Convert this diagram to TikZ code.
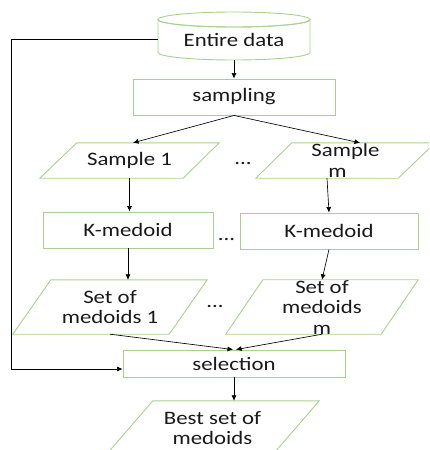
\documentclass[tikz,border=0pt]{standalone}
\usepackage{fontspec}
\setmainfont{Carlito}[FakeStretch=1.2]
\usetikzlibrary{arrows.meta}
\definecolor{boxgreen}{HTML}{A9D18E}
\tikzset{
  box/.style={draw=boxgreen, line width=0.9pt},
  lbl/.style={inner sep=0pt, align=center, text=black!90, font=\fontsize{19}{20.5}\selectfont},
  arr/.style={draw=black, line width=0.65pt, -{Latex[length=5.5pt,width=5pt]}},
}
\begin{document}
\begin{tikzpicture}[x=1pt,y=-1pt]
\useasboundingbox (0,0) rectangle (429,450);
\clip (0,0) rectangle (429,450);
% cylinder
\draw[box, fill=white] (158,19.5) -- (158,52.5)
  arc[start angle=180, end angle=0, x radius=76, y radius=7.5]
  -- (310,19.5) arc[start angle=0, end angle=180, x radius=76, y radius=7.5];
\draw[box] (234,19.5) ellipse[x radius=76, y radius=7.5];
\node[lbl, minimum width=152pt, minimum height=41pt] (data) at (234,39.5) {Entire data};
% sampling
\node[lbl, box, minimum width=202pt, minimum height=36pt] (samp) at (234,97) {sampling};
% sample nodes
\node[lbl, minimum width=179pt, minimum height=35pt] (s1) at (129.5,160.5) {Sample 1};
\draw[box] ([xshift=37pt]s1.north west) -- (s1.north east) -- ([xshift=-36pt]s1.south east) -- (s1.south west) -- cycle;
\node[lbl, minimum width=179pt, minimum height=35pt] (sm) at (345.5,160.5) {Sample\\m\hspace*{16pt}};
\draw[box] ([xshift=36pt]sm.north west) -- (sm.north east) -- ([xshift=-37pt]sm.south east) -- (sm.south west) -- cycle;
\node[lbl] (d1) at (243,163) {...};
% k-medoid
\node[lbl, box, minimum width=170pt, minimum height=36pt] (k1) at (128,230) {K-medoid};
\node[lbl, box, minimum width=178pt, minimum height=36pt] (km) at (329,231) {K-medoid};
\node[lbl] (d2) at (226.5,239) {...};
% set of medoids
\node[lbl, minimum width=194pt, minimum height=54pt] (set1) at (110,307) {Set of\\medoids 1};
\draw[box] ([xshift=38pt]set1.north west) -- (set1.north east) -- ([xshift=-38pt]set1.south east) -- (set1.south west) -- cycle;
\node[lbl, minimum width=192pt, minimum height=54pt] (setm) at (322,307) {Set of\\medoids\\m};
\draw[box] ([xshift=37pt]setm.north west) -- (setm.north east) -- ([xshift=-37pt]setm.south east) -- (setm.south west) -- cycle;
\node[lbl] (d3) at (215,306) {...};
% selection
\node[lbl, box, minimum width=222pt, minimum height=27pt] (sel) at (234,363.5) {selection};
% best set
\node[lbl, minimum width=213pt, minimum height=54pt] (best) at (212.5,428) {Best set of\\medoids};
\draw[box] ([xshift=47pt]best.north west) -- (best.north east) -- ([xshift=-47pt]best.south east) -- (best.south west) -- cycle;
% connectors
\coordinate (lft) at (11,369);
\draw[arr] (data.south) -- (samp.north);
\draw[arr] (samp.south) -- ([xshift=3.5pt]s1.north);
\draw[arr] (samp.south) -- ([xshift=14.5pt]sm.north);
\draw[arr] (s1.south) -- (s1.south |- k1.north);
\draw[arr] ([xshift=-18.5pt]sm.south) -- (km.north);
\draw[arr] (k1.south) -- (k1.south |- set1.north);
\draw[arr] (km.south) -- (setm.north);
\draw[arr] (set1.south) -- ([xshift=-1pt]sel.north);
\draw[arr] (setm.south) -- ([xshift=2pt]sel.north);
\draw[arr] (sel.south) -- (sel.south |- best.north);
\draw[arr] (data.west) -| (lft) -- ([yshift=-5.5pt]sel.west);
\end{tikzpicture}
\end{document}
